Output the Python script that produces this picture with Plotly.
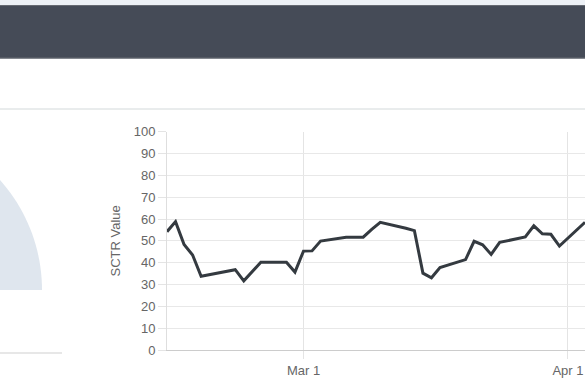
import math
import plotly.graph_objects as go

# ---- data ----
dates = [
    "2023-02-13", "2023-02-14", "2023-02-15", "2023-02-16", "2023-02-17",
    "2023-02-21", "2023-02-22", "2023-02-23", "2023-02-24", "2023-02-27",
    "2023-02-28", "2023-03-01", "2023-03-02", "2023-03-03", "2023-03-06",
    "2023-03-07", "2023-03-08", "2023-03-09", "2023-03-10", "2023-03-13",
    "2023-03-14", "2023-03-15", "2023-03-16", "2023-03-17", "2023-03-20",
    "2023-03-21", "2023-03-22", "2023-03-23", "2023-03-24", "2023-03-27",
    "2023-03-28", "2023-03-29", "2023-03-30", "2023-03-31", "2023-04-03",
]
sctr = [
    54.2, 58.8, 48.3, 43.5, 33.8,
    36.8, 31.7, 36.0, 40.2, 40.2,
    35.7, 45.3, 45.4, 49.9, 51.6,
    51.7, 51.7, 55.3, 58.5, 55.8,
    54.7, 35.2, 33.1, 37.8, 41.4,
    49.8, 48.2, 43.8, 49.3, 51.8,
    56.9, 53.2, 53.0, 47.6, 58.5,
]
x_tick_vals = ["2023-03-01", "2023-04-01"]
x_tick_text = ["Mar 1", "Apr 1"]
y_title = "SCTR Value"

W, H = 585, 390
FONT = "Liberation Sans, Arial, sans-serif"


def px(x):
    return x / W


def py(y):
    return 1 - y / H


fig = go.Figure()
fig.add_trace(go.Scatter(
    x=dates, y=sctr, mode="lines",
    line=dict(color="#343a40", width=3),
    hoverinfo="x+y", showlegend=False,
))

# gauge background (partial half-disc visible at the left)
cx, cy, r = -123.0, 290.0, 165.0
pts = []
for i in range(0, 91):
    a = math.pi * i / 90.0
    pts.append((cx + r * math.cos(a), cy - r * math.sin(a)))
path = "M " + " L ".join(f"{px(x):.5f},{py(y):.5f}" for x, y in pts) + " Z"

shapes = [
    dict(type="rect", xref="paper", yref="paper", x0=0, x1=1,
         y0=py(5), y1=1, fillcolor="#edf1f6", line=dict(width=0), layer="below"),
    dict(type="rect", xref="paper", yref="paper", x0=0, x1=1,
         y0=py(58.5), y1=py(5), fillcolor="#454b57", line=dict(width=0), layer="below"),
    dict(type="line", xref="paper", yref="paper", x0=0, x1=1,
         y0=py(5.5), y1=py(5.5), line=dict(color="#666a72", width=1), layer="below"),
    dict(type="line", xref="paper", yref="paper", x0=0, x1=1,
         y0=py(58), y1=py(58), line=dict(color="#666a72", width=1), layer="below"),
    dict(type="line", xref="paper", yref="paper", x0=0, x1=1,
         y0=py(109), y1=py(109), line=dict(color="#d3d9da", width=1), layer="below"),
    dict(type="path", xref="paper", yref="paper", path=path,
         fillcolor="#dfe6ee", line=dict(width=0), layer="below"),
    dict(type="line", xref="paper", yref="paper", x0=0, x1=px(62),
         y0=py(353), y1=py(353), line=dict(color="#cfcfcf", width=1), layer="below"),
]

fig.update_layout(
    template="none",
    width=W, height=H,
    autosize=False,
    margin=dict(l=0, r=0, t=0, b=0, pad=0, autoexpand=False),
    paper_bgcolor="white", plot_bgcolor="white",
    font=dict(family=FONT, size=13, color="#666666"),
    shapes=shapes,
    xaxis=dict(
        domain=[px(167), 1],
        automargin=False,
        type="date",
        range=["2023-02-13", "2023-04-03"],
        tickvals=x_tick_vals, ticktext=x_tick_text,
        showgrid=True, gridcolor="#e4e4e4", gridwidth=1,
        ticks="outside", ticklen=8, tickcolor="#e4e4e4",
        showline=True, linecolor="#cccccc", linewidth=1,
        zeroline=False, tickfont=dict(size=13, color="#666666"),
    ),
    yaxis=dict(
        domain=[py(350), py(131.7)],
        automargin=False,
        range=[0, 100], dtick=10, tick0=0,
        showgrid=True, gridcolor="#e8e8e8", gridwidth=1,
        ticks="outside", ticklen=8, tickcolor="#e4e4e4",
        showline=True, linecolor="#dedede", linewidth=1,
        zeroline=False, tickfont=dict(size=13, color="#666666"),
        title=dict(text=y_title, font=dict(size=13, color="#666666"), standoff=10),
    ),
)

fig.write_html(
    "out.html",
    post_script="document.body.style.margin='0';document.body.style.overflow='hidden';",
)
